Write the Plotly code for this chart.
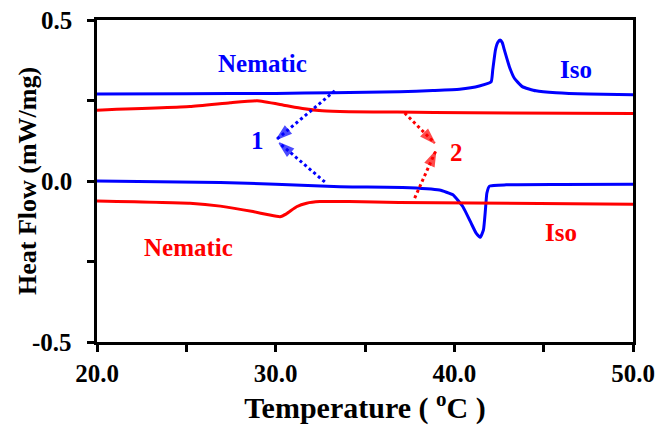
import plotly.graph_objects as go

BLUE = "#0000FF"
RED = "#FF0000"

# Heating curve (blue, upper)
blue_top_T = [20, 25, 30, 33.2, 36.94, 38.8, 40.29, 41.4, 42.06, 42.15, 42.3, 42.43, 42.56, 42.68, 42.8, 43.08, 43.36, 43.8, 44.57, 45.7, 47.5, 50]
blue_top_y = [0.270, 0.271, 0.272, 0.274, 0.277, 0.281, 0.285, 0.295, 0.308, 0.345, 0.407, 0.430, 0.438, 0.430, 0.407, 0.355, 0.319, 0.293, 0.280, 0.274, 0.270, 0.268]

# Red, upper
red_top_T = [20, 25.2, 27.45, 28.96, 30.4, 31.5, 32.6, 34.1, 36.8, 40.85, 50]
red_top_y = [0.220, 0.231, 0.243, 0.249, 0.236, 0.225, 0.218, 0.215, 0.214, 0.212, 0.210]

# Cooling curve (blue, lower)
blue_bot_T = [20, 26.9, 30, 33.6, 37.1, 39.17, 39.92, 40.48, 40.94, 41.22, 41.45, 41.63, 41.74, 41.82, 41.97, 42.9, 46, 50]
blue_bot_y = [0.0, -0.005, -0.010, -0.018, -0.020, -0.028, -0.043, -0.080, -0.131, -0.162, -0.175, -0.152, -0.090, -0.038, -0.016, -0.012, -0.011, -0.010]

# Red, lower
red_bot_T = [20, 25.2, 26.9, 28.73, 29.6, 30.24, 30.6, 31.17, 31.73, 32.47, 34.1, 36.9, 50]
red_bot_y = [-0.062, -0.069, -0.078, -0.095, -0.105, -0.111, -0.102, -0.080, -0.069, -0.064, -0.064, -0.067, -0.072]

# Dotted arrows: (tail_T, tail_y, head_T, head_y, colour)
arrows = [
    (33.31, 0.280, 30.07, 0.130, BLUE),
    (32.75, -0.003, 30.2, 0.118, BLUE),
    (37.22, 0.211, 38.9, 0.118, RED),
    (37.78, -0.053, 38.95, 0.092, RED),
]

# Text labels: (text, T, y, colour)
labels = [
    ("Nematic", 29.28, 0.366, BLUE),
    ("Iso", 46.82, 0.345, BLUE),
    ("Nematic", 25.1, -0.208, RED),
    ("Iso", 45.98, -0.161, RED),
    ("1", 29.01, 0.127, BLUE),
    ("2", 40.13, 0.087, RED),
]

x_tickvals = [20, 30, 40, 50]
x_ticktext = ["20.0", "30.0", "40.0", "50.0"]
x_minor = [25, 35, 45]
y_tickvals = [-0.5, 0.0, 0.5]
y_ticktext = ["-0.5", "0.0", "0.5"]
y_minor = [-0.25, 0.25]

FONT = "Liberation Serif"
W, H = 660, 426
ML, MR, MT, MB = 97, 27, 20, 84
plot_w = W - ML - MR

fig = go.Figure()
for T, y, c in [(blue_top_T, blue_top_y, BLUE), (red_top_T, red_top_y, RED),
                (blue_bot_T, blue_bot_y, BLUE), (red_bot_T, red_bot_y, RED)]:
    fig.add_trace(go.Scatter(x=T, y=y, mode="lines", line=dict(color=c, width=3, shape="spline", smoothing=0.4),
                             showlegend=False, hoverinfo="skip"))

for tx, ty, hx, hy, c in arrows:
    fig.add_trace(go.Scatter(x=[tx, hx], y=[ty, hy], mode="lines",
                             line=dict(color=c, width=3, dash="dot"), showlegend=False, hoverinfo="skip"))
    f = 0.1
    px, py = hx + (tx - hx) * f, hy + (ty - hy) * f
    fig.add_trace(go.Scatter(x=[px, hx], y=[py, hy], mode="markers",
                             marker=dict(symbol="arrow", angleref="previous", size=[0, 15], color=c,
                                         line=dict(width=1.5, color=c)),
                             showlegend=False, hoverinfo="skip"))

annotations = []
for t, x, y, c in labels:
    annotations.append(dict(x=x, y=y, xref="x", yref="y", text=t, showarrow=False,
                            font=dict(family=FONT, size=25, color=c, weight="bold")))

# y tick labels as annotations (right-aligned, away from the axis)
for v, t in zip(y_tickvals, y_ticktext):
    annotations.append(dict(x=(74 - ML) / plot_w, y=v, xref="paper", yref="y",
                            text=t, showarrow=False, xanchor="right", yanchor="middle",
                            font=dict(family=FONT, size=25, color="black", weight="bold")))

# y-axis title placed as a rotated annotation
annotations.append(dict(x=(27 - ML) / plot_w, y=0.5, xref="paper", yref="paper",
                        text="Heat Flow (mW/mg)", textangle=-90, showarrow=False,
                        xanchor="center", yanchor="middle",
                        font=dict(family=FONT, size=26, color="black", weight="bold")))

fig.update_layout(
    width=W, height=H,
    margin=dict(l=ML, r=MR, t=MT, b=MB),
    paper_bgcolor="white", plot_bgcolor="white",
    font=dict(family=FONT, size=25, color="black", weight="bold"),
    annotations=annotations,
    xaxis=dict(range=[20, 50], tickvals=x_tickvals, ticktext=x_ticktext,
               ticks="outside", ticklen=7, tickwidth=2.5, tickcolor="black",
               minor=dict(tickvals=x_minor, ticks="outside", ticklen=7, tickwidth=2.5, tickcolor="black", showgrid=False),
               showline=True, linewidth=2.5, linecolor="black", mirror=True,
               showgrid=False, zeroline=False, automargin=False,
               title=dict(text="Temperature ( <sup>o</sup>C )", standoff=6),
               tickfont=dict(family=FONT, size=25, color="black", weight="bold")),
    yaxis=dict(range=[-0.5, 0.5], tickvals=y_tickvals, showticklabels=False,
               ticks="outside", ticklen=7, tickwidth=2.5, tickcolor="black",
               minor=dict(tickvals=y_minor, ticks="outside", ticklen=7, tickwidth=2.5, tickcolor="black", showgrid=False),
               showline=True, linewidth=2.5, linecolor="black", mirror=True,
               showgrid=False, zeroline=False, automargin=False),
)

fig.write_html("out.html")
